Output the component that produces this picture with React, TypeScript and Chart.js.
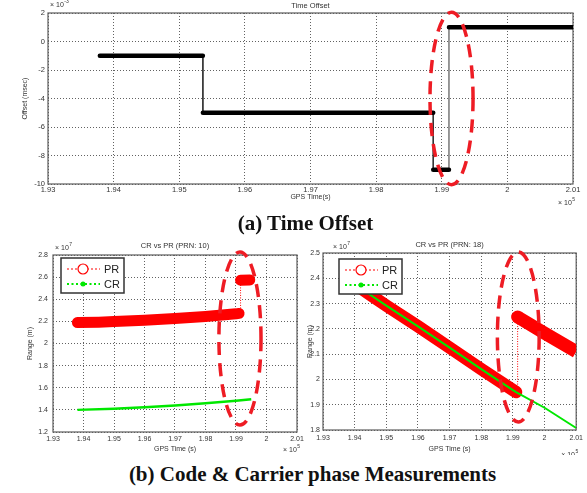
import React, { useEffect, useRef } from "react";
import { Chart, registerables } from "chart.js";

Chart.register(...registerables);

const FONT = '"Liberation Sans", Arial, Helvetica, sans-serif';
const SERIF = '"Liberation Serif", "Times New Roman", Times, serif';

// ---------------- data ----------------
// GPS time axis (x 10^5 s)
const timeMin = 1.93;
const timeMax = 2.01;
const timeStep = 0.01;

// (a) Time offset (x 10^-3 msec)
const offsetMin = -10;
const offsetMax = 2;
const offsetStep = 2;
const offsetTimes = [1.9379, 1.9536, 1.9536, 1.9887, 1.9887, 1.9911, 1.9911, 2.01];
const offsetValues = [-1, -1, -5, -5, -9, -9, 1, 1];

// (b) PRN 10 ranges (x 10^7 m)
const prn10Min = 1.2;
const prn10Max = 2.8;
const prn10Step = 0.2;
const prn10PrTimes = [1.938, 1.945, 1.95, 1.96, 1.97, 1.98, 1.99, 1.991];
const prn10PrValues = [2.19, 2.193, 2.198, 2.21, 2.225, 2.244, 2.268, 2.272];
const prn10PrJumpTimes = [1.9915, 1.9945];
const prn10PrJumpValues = [2.572, 2.575];
const prn10CrTimes = [1.938, 1.95, 1.96, 1.97, 1.98, 1.99, 1.995];
const prn10CrValues = [1.4, 1.41, 1.424, 1.44, 1.46, 1.483, 1.497];

// (b) PRN 18 ranges (x 10^7 m)
const prn18Min = 1.8;
const prn18Max = 2.5;
const prn18Step = 0.1;
const prn18PrTimes = [1.9375, 1.945, 1.95, 1.96, 1.97, 1.98, 1.99, 1.991];
const prn18PrValues = [2.4, 2.334, 2.292, 2.21, 2.126, 2.041, 1.958, 1.95];
const prn18PrJumpTimes = [1.9915, 2.0, 2.01];
const prn18PrJumpValues = [2.247, 2.183, 2.11];
const prn18CrTimes = [1.9375, 1.945, 1.95, 1.96, 1.97, 1.98, 1.99, 1.991, 2.0, 2.01];
const prn18CrValues = [2.4, 2.334, 2.292, 2.21, 2.126, 2.041, 1.958, 1.95, 1.888, 1.808];

const seriesNames = ["PR", "CR"];

// highlighted regions (data units: centre and radii)
const offsetHighlight = { x: 1.99149, y: -4.0, rx: 0.00328, ry: 6.05 };
const prn10Highlight = { x: 1.9913, y: 2.045, rx: 0.0069, ry: 0.782 };
const prn18Highlight = { x: 1.9917, y: 2.168, rx: 0.0066, ry: 0.336 };

// ---------------- helpers ----------------
const RED = "rgb(255,0,0)";
const GREEN = "rgb(0,232,0)";

const pts = (xs: number[], ys: number[]) => xs.map((x, i) => ({ x, y: ys[i] }));

const pairSegments = (xs: number[], ys: number[]) => {
  const out: { x: number; y: number | null }[] = [];
  for (let i = 0; i + 1 < xs.length; i += 2) {
    out.push({ x: xs[i], y: ys[i] });
    out.push({ x: xs[i + 1], y: ys[i + 1] });
    out.push({ x: xs[i + 1], y: null });
  }
  return out;
};

const link = (fromYs: number[], toXs: number[], toYs: number[]) => [
  { x: toXs[0], y: fromYs[fromYs.length - 1] },
  { x: toXs[0], y: toYs[0] },
];

type Decor = {
  title: string;
  titleDy: number;
  yExpBase: string;
  yExpSup: string;
  yExpDx: number;
  yExpDy: number;
  xLabel: string;
  xLabelDy: number;
  xExpSup: string;
  xExpDx: number;
  xExpDy: number;
  yLabel: string;
  yLabelDx: number;
  ellipse: { x: number; y: number; rx: number; ry: number };
  legend?: { dx: number; dy: number };
};

function drawExp(ctx: CanvasRenderingContext2D, x: number, y: number, base: string, sup: string) {
  ctx.font = `7px ${FONT}`;
  ctx.textAlign = "left";
  ctx.textBaseline = "middle";
  ctx.fillText(base, x, y);
  const w = ctx.measureText(base).width;
  ctx.font = `5px ${FONT}`;
  ctx.fillText(sup, x + w + 0.5, y - 3);
}

// plot box taken from the scales themselves
function plotBox(chart: any) {
  const xs = chart.scales.x;
  const ys = chart.scales.y;
  const l = xs.getPixelForValue(xs.min);
  const r = xs.getPixelForValue(xs.max);
  const t = ys.getPixelForValue(ys.max);
  const b = ys.getPixelForValue(ys.min);
  return { left: l, right: r, top: t, bottom: b };
}

function decorPlugin(d: Decor) {
  return {
    id: "decor",
    beforeDatasetsDraw(chart: any) {
      const { ctx } = chart;
      const a = plotBox(chart);
      ctx.save();
      ctx.strokeStyle = "#5c5c5c";
      ctx.lineWidth = 1.2;
      ctx.setLineDash([]);
      ctx.strokeRect(a.left, a.top, a.right - a.left, a.bottom - a.top);
      ctx.restore();
    },
    afterDatasetsDraw(chart: any) {
      const { ctx, scales } = chart;
      const a = plotBox(chart);
      const xs = scales.x;
      const ys = scales.y;
      // legend
      if (d.legend) {
        const bx = a.left + d.legend.dx;
        const by = a.top + d.legend.dy;
        const bw = 63;
        const bh = 35;
        ctx.save();
        ctx.fillStyle = "#ffffff";
        ctx.fillRect(bx, by, bw, bh);
        ctx.strokeStyle = "#333";
        ctx.lineWidth = 1.5;
        ctx.setLineDash([]);
        ctx.strokeRect(bx, by, bw, bh);
        seriesNames.forEach((name, i) => {
          const y = by + 11 + i * 15;
          const isPR = name === "PR";
          const col = isPR ? RED : GREEN;
          ctx.strokeStyle = col;
          ctx.lineWidth = isPR ? 1 : 2;
          ctx.setLineDash(isPR ? [2, 2] : [2, 2.5]);
          ctx.beginPath();
          ctx.moveTo(bx + 6, y);
          ctx.lineTo(bx + 39, y);
          ctx.stroke();
          ctx.setLineDash([]);
          ctx.beginPath();
          if (isPR) {
            ctx.fillStyle = "#fff";
            ctx.arc(bx + 22, y, 5, 0, Math.PI * 2);
            ctx.fill();
            ctx.lineWidth = 1.2;
            ctx.stroke();
          } else {
            ctx.fillStyle = col;
            ctx.arc(bx + 22, y, 2.5, 0, Math.PI * 2);
            ctx.fill();
          }
          ctx.fillStyle = "#222";
          ctx.font = `11px ${FONT}`;
          ctx.textAlign = "left";
          ctx.textBaseline = "middle";
          ctx.fillText(name, bx + 43, y + 0.5);
        });
        ctx.restore();
      }
      // highlight ellipse
      const e = d.ellipse;
      const cx = xs.getPixelForValue(e.x);
      const cy = ys.getPixelForValue(e.y);
      const rx = Math.abs(xs.getPixelForValue(e.x + e.rx) - cx);
      const ry = Math.abs(ys.getPixelForValue(e.y + e.ry) - cy);
      ctx.save();
      ctx.strokeStyle = "rgb(238,28,36)";
      ctx.lineWidth = 3.5;
      ctx.setLineDash([13, 8]);
      ctx.beginPath();
      ctx.ellipse(cx, cy, rx, ry, 0, 0, Math.PI * 2);
      ctx.stroke();
      ctx.restore();
    },
    afterDraw(chart: any) {
      const { ctx } = chart;
      const a = plotBox(chart);
      const midX = (a.left + a.right) / 2;
      const midY = (a.top + a.bottom) / 2;
      ctx.save();
      ctx.fillStyle = "#333";
      ctx.textAlign = "center";
      ctx.textBaseline = "middle";
      ctx.font = `7.5px ${FONT}`;
      ctx.fillText(d.title, midX, a.top + d.titleDy);
      ctx.font = `7px ${FONT}`;
      ctx.fillText(d.xLabel, midX, a.bottom + d.xLabelDy);
      drawExp(ctx, a.left + d.yExpDx, a.top + d.yExpDy, d.yExpBase, d.yExpSup);
      drawExp(ctx, a.right + d.xExpDx, a.bottom + d.xExpDy, "\u00d7 10", d.xExpSup);
      ctx.save();
      ctx.translate(a.left + d.yLabelDx, midY);
      ctx.rotate(-Math.PI / 2);
      ctx.font = `7px ${FONT}`;
      ctx.textAlign = "center";
      ctx.textBaseline = "middle";
      ctx.fillText(d.yLabel, 0, 0);
      ctx.restore();
      ctx.restore();
    },
  };
}

type AxisCfg = {
  yMin: number;
  yMax: number;
  yStep: number;
  yDecimals: number;
  yWidth: number;
  xHeight: number;
  padding: { left: number; top: number; right: number; bottom: number };
  tickSize: number;
  xPad: number;
  yPad: number;
};

function makeOptions(c: AxisCfg) {
  const grid = { color: "rgba(70,70,70,0.85)", lineWidth: 1, drawTicks: false };
  const border = { display: false, dash: [1, 2] };
  return {
    responsive: false,
    animation: false as const,
    devicePixelRatio: 1,
    layout: { padding: c.padding },
    plugins: { legend: { display: false }, tooltip: { enabled: false }, title: { display: false } },
    elements: { point: { radius: 0 } },
    scales: {
      x: {
        type: "linear" as const,
        min: timeMin,
        max: timeMax,
        grid,
        border,
        afterFit: (s: any) => {
          s.height = c.xHeight;
        },
        ticks: {
          stepSize: timeStep,
          autoSkip: false,
          maxRotation: 0,
          padding: c.xPad,
          color: "#333",
          font: { family: FONT, size: c.tickSize },
          callback: (v: any) => String(Number(Number(v).toFixed(2))),
        },
      },
      y: {
        type: "linear" as const,
        min: c.yMin,
        max: c.yMax,
        grid,
        border,
        afterFit: (s: any) => {
          s.width = c.yWidth;
        },
        ticks: {
          stepSize: c.yStep,
          autoSkip: false,
          padding: c.yPad,
          color: "#333",
          font: { family: FONT, size: c.tickSize },
          callback: (v: any) => String(Number(Number(v).toFixed(c.yDecimals))),
        },
      },
    },
  };
}

const bandStyle = (w: number) => ({
  borderColor: RED,
  borderWidth: w,
  borderCapStyle: "round" as const,
  borderJoinStyle: "round" as const,
  pointRadius: 0,
  spanGaps: false,
  clip: 0,
  order: 2,
});

// band that runs into the right edge: flat end there, round start via a point marker
const edgeBandStyle = (w: number) => ({
  ...bandStyle(w),
  borderCapStyle: "butt" as const,
  pointRadius: (c: any) => (c.dataIndex === 0 ? w / 2 : 0),
  pointBackgroundColor: RED,
  pointBorderWidth: 0,
  pointBorderColor: RED,
});

const linkStyle = {
  borderColor: RED,
  borderWidth: 1,
  borderDash: [1, 1.5],
  pointRadius: 0,
  clip: 0,
  order: 3,
};

function configA() {
  return {
    type: "line" as const,
    data: {
      datasets: [
        {
          label: "offset-line",
          data: pts(offsetTimes, offsetValues),
          borderColor: "#333",
          borderWidth: 1,
          pointRadius: 0,
          clip: 0,
          order: 2,
        },
        {
          label: "offset",
          data: pairSegments(offsetTimes, offsetValues),
          borderColor: "#000",
          borderWidth: 4.5,
          borderCapStyle: "round" as const,
          pointRadius: 0,
          spanGaps: false,
          clip: 0,
          order: 1,
        },
      ],
    },
    options: makeOptions({
      yMin: offsetMin,
      yMax: offsetMax,
      yStep: offsetStep,
      yDecimals: 0,
      yWidth: 48,
      xHeight: 31,
      padding: { left: 0, top: 13, right: 14, bottom: 0 },
      tickSize: 7.5,
      xPad: 1,
      yPad: 3,
    }),
    plugins: [
      decorPlugin({
        title: "Time Offset",
        titleDy: -7,
        yExpBase: "\u00d7 10",
        yExpSup: "-3",
        yExpDx: 2,
        yExpDy: -8,
        xLabel: "GPS Time(s)",
        xLabelDy: 13,
        xExpSup: "5",
        xExpDx: -15,
        xExpDy: 19,
        yLabel: "Offset (msec)",
        yLabelDx: -23,
        ellipse: offsetHighlight,
      }),
    ],
  };
}

function configB() {
  return {
    type: "line" as const,
    data: {
      datasets: [
        { label: "PR", data: pts(prn10PrTimes, prn10PrValues), ...bandStyle(11) },
        { label: "PR-jump", data: pts(prn10PrJumpTimes, prn10PrJumpValues), ...bandStyle(11) },
        { label: "PR-link", data: link(prn10PrValues, prn10PrJumpTimes, prn10PrJumpValues), ...linkStyle },
        {
          label: "CR",
          data: pts(prn10CrTimes, prn10CrValues),
          borderColor: GREEN,
          borderWidth: 2.5,
          pointRadius: 0,
          clip: 0,
          order: 1,
        },
      ],
    },
    options: makeOptions({
      yMin: prn10Min,
      yMax: prn10Max,
      yStep: prn10Step,
      yDecimals: 1,
      yWidth: 53,
      xHeight: 23,
      padding: { left: 0, top: 20, right: 13, bottom: 0 },
      tickSize: 7,
      xPad: 3,
      yPad: 5,
    }),
    plugins: [
      decorPlugin({
        title: "CR vs PR (PRN: 10)",
        titleDy: -9,
        yExpBase: "\u00d7 10",
        yExpSup: "7",
        yExpDx: 2,
        yExpDy: -7,
        xLabel: "GPS Time (s)",
        xLabelDy: 17,
        xExpSup: "5",
        xExpDx: -14,
        xExpDy: 18,
        yLabel: "Range (m)",
        yLabelDx: -23,
        ellipse: prn10Highlight,
        legend: { dx: 8, dy: 3 },
      }),
    ],
  };
}

function configC() {
  return {
    type: "line" as const,
    data: {
      datasets: [
        { label: "PR", data: pts(prn18PrTimes, prn18PrValues), ...bandStyle(12.5) },
        { label: "PR-jump", data: pts(prn18PrJumpTimes, prn18PrJumpValues), ...edgeBandStyle(13) },
        { label: "PR-link", data: link(prn18PrValues, prn18PrJumpTimes, prn18PrJumpValues), ...linkStyle },
        {
          label: "CR",
          data: pts(prn18CrTimes, prn18CrValues),
          borderColor: GREEN,
          borderWidth: 2,
          pointRadius: 0,
          clip: 0,
          order: 1,
        },
      ],
    },
    options: makeOptions({
      yMin: prn18Min,
      yMax: prn18Max,
      yStep: prn18Step,
      yDecimals: 1,
      yWidth: 28,
      xHeight: 25,
      padding: { left: 0, top: 18, right: 10, bottom: 0 },
      tickSize: 7,
      xPad: 4,
      yPad: 3,
    }),
    plugins: [
      decorPlugin({
        title: "CR vs PR (PRN: 18)",
        titleDy: -8,
        yExpBase: "\u00d7 10",
        yExpSup: "7",
        yExpDx: 10,
        yExpDy: -6,
        xLabel: "GPS Time (s)",
        xLabelDy: 19,
        xExpSup: "5",
        xExpDx: -15,
        xExpDy: 25,
        yLabel: "Range (m)",
        yLabelDx: -13,
        ellipse: prn18Highlight,
        legend: { dx: 16, dy: 6 },
      }),
    ],
  };
}

function ChartCanvas(props: { make: () => any; left: number; top: number; width: number; height: number }) {
  const ref = useRef<HTMLCanvasElement | null>(null);
  useEffect(() => {
    if (!ref.current) return;
    const chart = new Chart(ref.current, props.make());
    return () => chart.destroy();
  }, []);
  return (
    <canvas
      ref={ref}
      width={props.width}
      height={props.height}
      style={{ position: "absolute", left: props.left, top: props.top, width: props.width, height: props.height }}
    />
  );
}

const captionStyle = (top: number): React.CSSProperties => ({
  position: "absolute",
  left: 0,
  top,
  width: 587,
  textAlign: "center",
  fontFamily: SERIF,
  fontWeight: "bold",
  fontSize: 21,
  lineHeight: "21px",
  color: "#111",
  whiteSpace: "nowrap",
});

export default function App() {
  return (
    <div style={{ position: "absolute", left: 0, top: 0, width: 587, height: 493, background: "#fff", overflow: "hidden" }}>
      <ChartCanvas make={configA} left={0} top={0} width={587} height={215} />
      <div style={{ ...captionStyle(213), left: 12 }}>(a) Time Offset</div>
      <ChartCanvas make={configB} left={0} top={235} width={310} height={220} />
      <ChartCanvas make={configC} left={295} top={235} width={292} height={220} />
      <div style={{ ...captionStyle(464), left: 19 }}>(b) Code &amp; Carrier phase Measurements</div>
    </div>
  );
}
